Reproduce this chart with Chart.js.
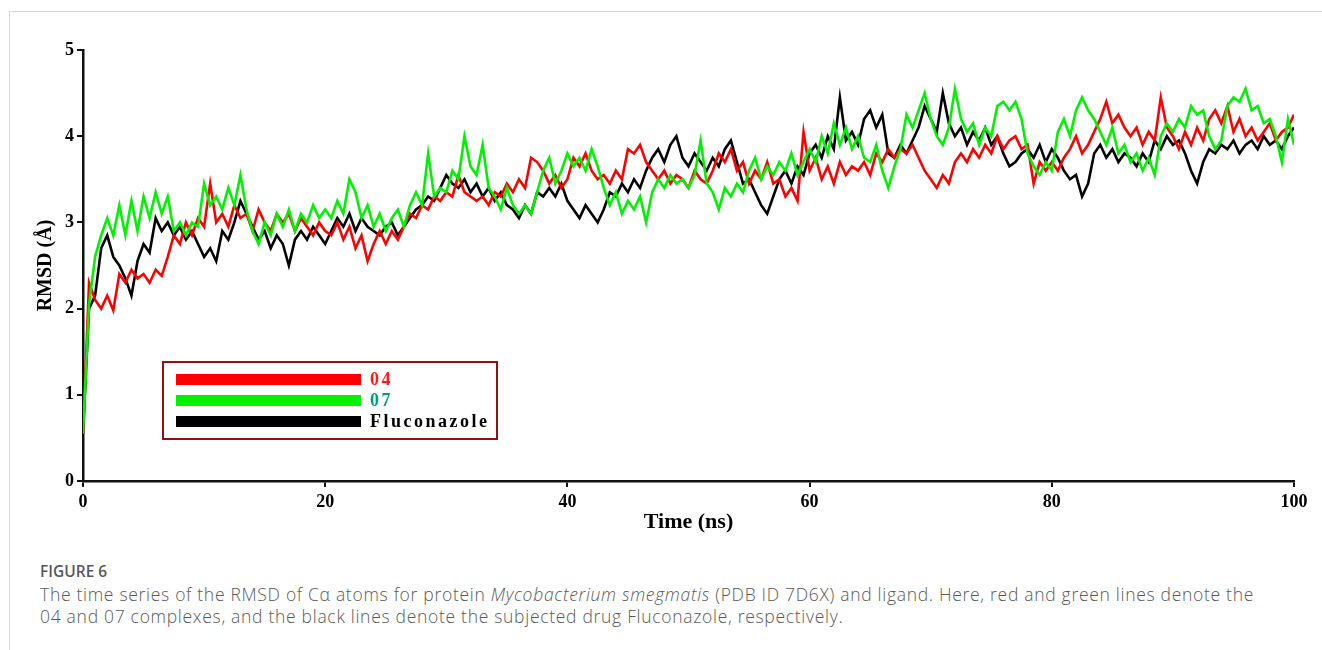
<!DOCTYPE html>
<html>
<head>
<meta charset="utf-8">
<script src="https://cdn.jsdelivr.net/npm/chart.js@4.4.0/dist/chart.umd.min.js"></script>
<style>
body { margin: 0; background: #fff; width: 1322px; height: 650px; overflow: hidden; position: relative; font-family: "Open Sans", sans-serif; }
.card { position: absolute; left: 9px; top: 11px; right: -5px; bottom: -5px; border-left: 1px solid #d6d6d6; border-top: 1px solid #d6d6d6; }
#wrap { position: absolute; left: 0; top: 0; width: 1322px; height: 545px; }
.cap { position: absolute; left: 40px; top: 559px; color: #595959; }
.cap h4 { margin: 0; font-weight: 600; font-size: 15.5px; line-height: 24px; }
.cap p { margin: 0; font-weight: 300; font-size: 17.5px; letter-spacing: 0.7px; line-height: 22px; white-space: nowrap; }
</style>
</head>
<body>
<div class="card"></div>
<div id="wrap"><canvas id="chart"></canvas></div>
<div class="cap">
  <h4>FIGURE 6</h4>
  <p>The time series of the RMSD of Cα atoms for protein <i>Mycobacterium smegmatis</i> (PDB ID 7D6X) and ligand. Here, red and green lines denote the<br>04 and 07 complexes, and the black lines denote the subjected drug Fluconazole, respectively.</p>
</div>
<script>
// time axis, 0..100 ns sampled every 0.5 ns
const time = Array.from({ length: 201 }, (_, i) => i * 0.5);
const xTicks = [0, 20, 40, 60, 80, 100];
const yTicks = [0, 1, 2, 3, 4, 5];

const rmsd04 = [
    0.55, 2.3, 2.1, 2.0, 2.15, 1.98, 2.4, 2.3, 2.45, 2.35,
    2.4, 2.3, 2.45, 2.38, 2.6, 2.85, 2.75, 3.0, 2.85, 3.05,
    2.95, 3.45, 3.0, 3.1, 2.95, 3.2, 3.05, 3.1, 2.9, 3.15,
    3.0, 2.9, 3.1, 3.0, 3.1, 2.9, 3.05, 2.95, 2.85, 3.0,
    2.9, 2.85, 3.0, 2.8, 2.95, 2.7, 2.85, 2.55, 2.75, 2.9,
    2.75, 2.9, 2.8, 2.95, 3.1, 3.05, 3.2, 3.15, 3.3, 3.25,
    3.35, 3.3, 3.55, 3.35, 3.3, 3.25, 3.3, 3.2, 3.35, 3.3,
    3.45, 3.35, 3.5, 3.4, 3.75, 3.7, 3.6, 3.45, 3.55, 3.4,
    3.5, 3.75, 3.65, 3.8, 3.6, 3.5, 3.55, 3.45, 3.6, 3.5,
    3.85, 3.8, 3.9, 3.7, 3.6, 3.5, 3.6, 3.45, 3.55, 3.5,
    3.4, 3.6, 3.5, 3.45, 3.6, 3.8, 3.7, 3.85, 3.6, 3.7,
    3.45, 3.6, 3.5, 3.7, 3.45, 3.5, 3.3, 3.4, 3.25, 4.05,
    3.6, 3.75, 3.5, 3.65, 3.45, 3.7, 3.55, 3.65, 3.6, 3.7,
    3.55, 3.8, 3.7, 3.85, 3.75, 3.85, 3.8, 3.9, 3.75, 3.6,
    3.5, 3.4, 3.55, 3.45, 3.7, 3.8, 3.7, 3.85, 3.75, 3.9,
    3.8, 4.0, 3.85, 3.95, 4.0, 3.85, 3.9, 3.45, 3.7, 3.6,
    3.7, 3.6, 3.75, 3.85, 4.0, 3.8, 3.9, 4.05, 4.2, 4.4,
    4.15, 4.25, 4.1, 4.0, 4.1, 3.9, 4.05, 3.95, 4.45, 4.1,
    4.0, 3.85, 4.05, 3.9, 4.1, 3.95, 4.2, 4.3, 4.15, 4.35,
    4.05, 4.2, 4.0, 4.1, 3.95, 4.05, 4.15, 3.95, 4.05, 4.1,
    4.25
];

const rmsd07 = [
    0.55, 2.05, 2.6, 2.85, 3.05, 2.85, 3.2, 2.85, 3.25, 2.9,
    3.3, 3.05, 3.35, 3.1, 3.3, 2.9, 3.0, 2.85, 3.0, 2.95,
    3.45, 3.2, 3.3, 3.15, 3.4, 3.2, 3.55, 3.15, 2.9, 2.75,
    3.0, 2.85, 3.1, 2.95, 3.15, 2.9, 3.1, 3.0, 3.2, 3.05,
    3.15, 3.05, 3.25, 3.1, 3.5, 3.35, 3.05, 3.2, 2.95, 3.1,
    2.9, 3.05, 3.15, 2.95, 3.2, 3.35, 3.2, 3.8, 3.3, 3.4,
    3.35, 3.6, 3.5, 4.0, 3.65, 3.55, 3.9, 3.4, 3.3, 3.15,
    3.4, 3.2, 3.1, 3.2, 3.1, 3.35, 3.6, 3.75, 3.45, 3.6,
    3.8, 3.65, 3.75, 3.6, 3.85, 3.65, 3.4, 3.2, 3.35, 3.1,
    3.25, 3.15, 3.3, 3.0, 3.35, 3.5, 3.4, 3.55, 3.45, 3.5,
    3.4, 3.55, 3.95, 3.45, 3.35, 3.15, 3.4, 3.3, 3.45, 3.35,
    3.6, 3.75, 3.5, 3.65, 3.55, 3.7, 3.6, 3.8, 3.55, 3.7,
    3.85, 3.7, 4.0, 3.8, 4.15, 3.9, 4.1, 3.85, 4.0, 3.75,
    3.7, 3.9, 3.6, 3.4, 3.65, 3.85, 4.25, 4.1, 4.3, 4.5,
    4.2, 4.0, 3.9, 4.1, 4.55, 4.2, 4.05, 4.15, 3.9, 4.1,
    4.0, 4.35, 4.4, 4.3, 4.4, 4.2, 3.8, 3.65, 3.55, 3.7,
    3.6, 4.05, 4.2, 4.0, 4.3, 4.45, 4.3, 4.2, 4.05, 3.9,
    4.1, 3.8, 3.9, 3.7, 3.8, 3.6, 3.75, 3.55, 4.0, 4.15,
    4.05, 4.2, 4.1, 4.35, 4.25, 4.3, 4.0, 3.85, 3.95, 4.35,
    4.45, 4.4, 4.55, 4.3, 4.35, 4.15, 4.2, 4.0, 3.7, 4.2,
    3.9
];

const rmsdFlu = [
    0.55, 2.0, 2.15, 2.7, 2.85, 2.6, 2.5, 2.35, 2.15, 2.55,
    2.75, 2.65, 3.05, 2.9, 3.0, 2.85, 2.95, 2.8, 2.9, 2.75,
    2.6, 2.7, 2.55, 2.9, 2.8, 3.0, 3.25, 3.1, 2.95, 2.8,
    2.9, 2.7, 2.85, 2.75, 2.5, 2.8, 2.9, 2.8, 2.95, 2.85,
    2.75, 2.9, 3.05, 2.95, 3.1, 2.9, 3.05, 2.95, 2.9, 2.85,
    2.95, 3.0, 2.85, 2.95, 3.05, 3.15, 3.2, 3.3, 3.25, 3.4,
    3.55, 3.45, 3.4, 3.5, 3.35, 3.45, 3.3, 3.4, 3.25, 3.35,
    3.2, 3.15, 3.05, 3.2, 3.1, 3.35, 3.3, 3.4, 3.3, 3.45,
    3.25, 3.15, 3.05, 3.2, 3.1, 3.0, 3.15, 3.35, 3.3, 3.45,
    3.35, 3.5, 3.4, 3.6, 3.75, 3.85, 3.7, 3.9, 4.0, 3.75,
    3.65, 3.8, 3.7, 3.6, 3.75, 3.65, 3.85, 3.95, 3.7, 3.45,
    3.5, 3.35, 3.2, 3.1, 3.3, 3.5, 3.6, 3.45, 3.65, 3.55,
    3.8, 3.9, 3.75, 4.0, 3.85, 4.45, 3.95, 4.05, 3.9, 4.2,
    4.3, 4.1, 4.25, 3.8, 3.75, 3.9, 3.8, 3.95, 4.1, 4.35,
    4.2, 4.05, 4.5, 4.15, 4.0, 4.1, 3.9, 4.05, 3.95, 4.1,
    3.9, 4.0, 3.8, 3.65, 3.7, 3.8, 3.85, 3.75, 3.9, 3.7,
    3.85, 3.75, 3.6, 3.5, 3.55, 3.3, 3.45, 3.8, 3.9, 3.75,
    3.85, 3.7, 3.8, 3.75, 3.65, 3.8, 3.7, 3.95, 3.85, 4.0,
    3.9, 3.95, 3.8, 3.6, 3.45, 3.7, 3.85, 3.8, 3.9, 3.85,
    3.95, 3.8, 3.9, 3.95, 3.85, 4.0, 3.9, 3.95, 3.85, 4.0,
    4.1
];

const series = [
    { label: "04", data: rmsd04, color: "#ff0000", text: "#ff1a1a", order: 2 },
    { label: "07", data: rmsd07, color: "#00f200", text: "#00a07a", order: 1 },
    { label: "Fluconazole", data: rmsdFlu, color: "#000000", text: "#000000", order: 3 },
];

const serif = "'Liberation Serif', 'Times New Roman', serif";

// boxed legend with thick bars, drawn inside the plot area
const boxLegend = {
    id: "boxLegend",
    afterDatasetsDraw(chart) {
        const { ctx, chartArea } = chart;
        const x = chartArea.left + 80, y = chartArea.top + 312;
        ctx.save();
        ctx.fillStyle = "#fff";
        ctx.fillRect(x, y, 334, 77);
        ctx.strokeStyle = "#8e1212";
        ctx.lineWidth = 2;
        ctx.strokeRect(x, y, 334, 77);
        ctx.font = "bold 18px " + serif;
        ctx.letterSpacing = "2.5px";
        ctx.textBaseline = "middle";
        series.forEach((s, i) => {
            const cy = y + 17.5 + i * 21;
            ctx.fillStyle = s.color;
            ctx.fillRect(x + 13, cy - 5.5, 185, 11);
            ctx.fillStyle = s.text;
            ctx.fillText(s.label, x + 207, cy + 1);
        });
        ctx.restore();
    }
};

new Chart(document.getElementById("chart"), {
    type: "line",
    data: {
        datasets: series.map(s => ({
            label: s.label,
            data: time.map((t, i) => ({ x: t, y: s.data[i] })),
            borderColor: s.color,
            backgroundColor: s.color,
            borderWidth: 2.6,
            pointRadius: 0,
            tension: 0,
            order: s.order,
        }))
    },
    options: {
        responsive: true,
        maintainAspectRatio: false,
        animation: false,
        events: [],
        layout: { padding: { left: 34, top: 50, right: 28, bottom: 4 } },
        plugins: { legend: { display: false }, tooltip: { enabled: false } },
        scales: {
            x: {
                type: "linear",
                min: 0,
                max: 100,
                afterFit: scale => { scale.height = 60; },
                afterBuildTicks: scale => { scale.ticks = xTicks.map(v => ({ value: v })); },
                border: { display: true, color: "#111", width: 2.5 },
                grid: { drawOnChartArea: false, drawTicks: true, tickLength: 6, color: "#111", lineWidth: 2 },
                ticks: { color: "#000", padding: 5, maxRotation: 0, font: { family: serif, weight: "bold", size: 18 } },
                title: { display: true, text: "Time (ns)", color: "#000", padding: { top: 0, bottom: 5 }, font: { family: serif, weight: "bold", size: 22 } }
            },
            y: {
                min: 0,
                max: 5,
                afterFit: scale => { scale.width = 49; },
                afterBuildTicks: scale => { scale.ticks = yTicks.map(v => ({ value: v })); },
                border: { display: true, color: "#111", width: 2.5 },
                grid: { drawOnChartArea: false, drawTicks: true, tickLength: 6, color: "#111", lineWidth: 2 },
                ticks: { color: "#000", padding: 3, font: { family: serif, weight: "bold", size: 18 } },
                title: { display: true, text: "RMSD (Å)", color: "#000", padding: 0, font: { family: serif, weight: "bold", size: 20 } }
            }
        }
    },
    plugins: [boxLegend]
});
</script>
</body>
</html>
